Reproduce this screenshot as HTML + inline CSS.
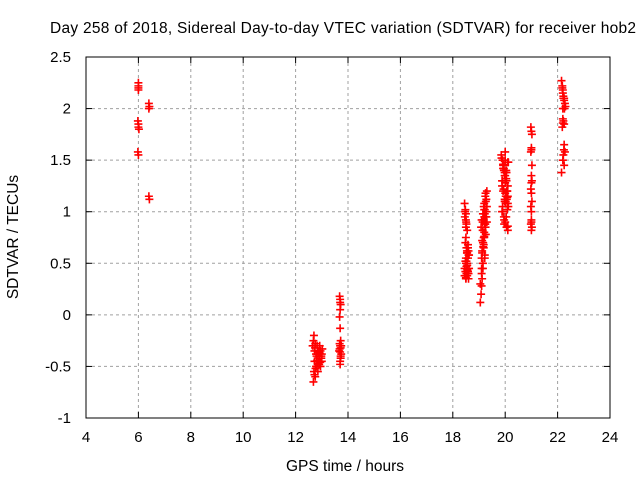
<!DOCTYPE html>
<html><head><meta charset="utf-8"><style>
body{margin:0;background:#fff}
svg{display:block;font-family:"Liberation Sans",Arial,sans-serif}
</style></head><body>
<svg id="chart" width="640" height="480">
<text x="343" y="33" font-size="15.5" text-anchor="middle" textLength="586">Day 258 of 2018, Sidereal Day-to-day VTEC variation (SDTVAR) for receiver hob2</text>
<text x="345" y="471" font-size="15.5" text-anchor="middle">GPS time / hours</text>
<text transform="translate(18,237) rotate(-90)" font-size="15.5" text-anchor="middle">SDTVAR / TECUs</text>
<g id="grid"></g><g id="ticks"></g><g id="marks"></g>
<rect x="86" y="57" width="524" height="361" fill="none" stroke="#000"/>
</svg>
<script>
const xTicks=[4,6,8,10,12,14,16,18,20,22,24];
const yTicks=[-1,-0.5,0,0.5,1,1.5,2,2.5];
const yTickLabels=["-1","-0.5","0","0.5","1","1.5","2","2.5"];
const times=[6.0,6.0,6.0,6.0,5.98,6.0,6.0,6.02,5.98,6.0,
6.4,6.42,6.4,6.4,6.42,
12.65,12.68,12.7,12.72,12.72,12.75,12.78,12.8,12.82,12.85,12.88,12.9,12.92,12.95,12.98,13.0,13.02,12.7,12.75,12.8,12.85,12.9,12.95,13.0,12.68,12.72,
12.74,12.78,12.82,12.86,12.9,12.94,12.98,12.76,12.84,12.92,
13.68,13.7,13.72,13.7,13.68,13.7,13.72,13.7,13.68,13.7,13.72,13.7,13.68,13.72,13.7,13.74,13.66,13.74,13.7,13.72,
18.45,18.48,18.5,18.5,18.52,18.55,18.5,18.48,18.52,18.55,18.6,18.58,18.5,18.45,18.48,18.52,18.55,18.6,18.62,18.5,18.55,18.58,18.45,18.5,18.55,18.6,18.52,
18.46,18.5,18.54,18.58,18.62,18.48,18.52,18.56,18.6,18.5,18.54,18.58,18.47,18.51,18.55,
19.05,19.08,19.1,19.12,19.15,19.1,19.12,19.15,19.18,19.2,19.22,19.25,19.3,19.28,19.25,19.2,19.15,19.1,19.08,19.12,19.18,19.22,19.28,19.3,19.25,19.2,19.15,19.1,19.05,19.1,19.2,19.3,19.22,19.18,19.26,
19.14,19.18,19.22,19.26,19.16,19.2,19.24,19.12,19.16,19.2,19.24,19.28,19.14,19.18,19.22,
19.85,19.9,19.92,19.95,20.0,20.05,20.1,20.08,20.02,19.98,19.9,19.88,19.95,20.0,20.05,20.1,20.12,20.0,19.95,20.05,19.9,20.0,20.1,19.92,20.02,20.08,19.96,20.04,20.0,19.94,20.06,20.1,19.88,19.98,
19.86,19.92,19.98,20.04,20.1,19.88,19.94,20.0,20.06,20.12,19.9,19.96,20.02,20.08,19.92,19.98,20.04,20.1,
20.98,21.0,21.02,21.0,20.98,21.02,21.0,21.0,20.98,21.02,21.0,21.0,20.98,21.02,21.0,21.0,21.0,21.02,20.98,21.0,
22.15,22.18,22.2,22.22,22.25,22.28,22.3,22.2,22.22,22.25,22.18,22.2,22.25,22.28,22.22,22.2,22.25,22.15,22.2,22.25,22.18,22.22,22.26,22.2,22.24];
const values=[2.25,2.22,2.2,2.18,1.88,1.85,1.82,1.8,1.58,1.55,
2.05,2.02,2.0,1.15,1.12,
-0.3,-0.25,-0.2,-0.35,-0.45,-0.28,-0.5,-0.4,-0.3,-0.35,-0.45,-0.4,-0.3,-0.35,-0.42,-0.38,-0.33,-0.55,-0.6,-0.5,-0.55,-0.48,-0.5,-0.45,-0.65,-0.58,
-0.32,-0.38,-0.44,-0.36,-0.42,-0.46,-0.4,-0.52,-0.47,-0.37,
0.18,0.15,0.1,0.05,-0.02,-0.13,-0.25,-0.3,-0.33,-0.36,-0.4,-0.45,-0.28,-0.32,-0.48,-0.38,-0.35,-0.3,0.12,-0.42,
1.08,1.02,0.98,0.92,0.88,0.82,0.75,0.7,0.65,0.6,0.62,0.55,0.5,0.45,0.42,0.4,0.38,0.35,0.45,0.55,0.5,0.42,0.38,0.35,0.48,0.58,0.52,
0.95,0.85,0.6,0.65,0.58,0.52,0.47,0.43,0.4,0.36,0.62,0.68,1.0,0.9,0.44,
0.12,0.2,0.28,0.35,0.45,0.55,0.62,0.7,0.75,0.8,0.88,0.95,1.05,1.12,1.18,1.08,0.98,0.92,0.85,0.72,0.65,0.58,1.0,0.9,0.85,0.75,0.5,0.45,0.3,0.4,0.95,1.2,1.02,0.68,0.78,
0.82,0.92,0.98,1.1,0.7,0.76,0.88,0.6,0.66,1.02,1.15,0.95,0.9,1.05,0.55,
1.55,1.5,1.45,1.4,1.35,1.3,1.25,1.2,1.15,1.1,1.05,1.0,0.95,0.9,0.85,0.82,1.48,1.5,1.42,1.38,1.3,1.28,1.15,1.2,1.1,1.02,0.88,0.95,1.58,1.45,1.2,1.08,1.25,1.12,
1.52,1.42,1.35,1.4,1.48,1.3,1.22,1.18,1.12,1.05,1.0,0.92,1.08,1.14,1.46,1.38,1.32,0.86,
1.82,1.78,1.75,1.62,1.58,1.45,1.35,1.28,1.22,1.1,1.0,0.92,0.88,0.85,0.82,1.18,1.6,1.3,1.05,0.9,
2.27,2.22,2.18,2.12,2.08,2.05,2.02,2.15,1.88,1.85,1.82,1.9,1.65,1.58,1.55,1.5,1.45,1.38,2.0,2.1,2.2,2.1,2.0,1.86,1.6];
const X=v=>86+(v-4)*524/20, Y=v=>418-(v+1)*361/3.5;
const NS="http://www.w3.org/2000/svg";
const grid=document.getElementById('grid'),ticks=document.getElementById('ticks'),marks=document.getElementById('marks');
function mk(tag,attrs,parent){const e=document.createElementNS(NS,tag);for(const k in attrs)e.setAttribute(k,attrs[k]);parent.appendChild(e);return e;}
xTicks.forEach((t,i)=>{const x=X(t);
 if(i>0&&i<xTicks.length-1){const g=mk('line',{x1:x,x2:x,y1:57,y2:418,stroke:'#a0a0a0','stroke-dasharray':'3,3'},grid);
 
 }
 mk('line',{x1:x,x2:x,y1:418,y2:412,stroke:'#000'},ticks);mk('line',{x1:x,x2:x,y1:57,y2:63,stroke:'#000'},ticks);
 const l=mk('text',{x:x,y:442,'font-size':15,'text-anchor':'middle'},ticks);l.textContent=t;
 
 });
yTicks.forEach((t,i)=>{const y=Y(t);
 if(i>0&&i<yTicks.length-1){const g=mk('line',{x1:86,x2:610,y1:y,y2:y,stroke:'#a0a0a0','stroke-dasharray':'3,3'},grid);
 
 }
 mk('line',{x1:86,x2:92,y1:y,y2:y,stroke:'#000'},ticks);mk('line',{x1:610,x2:604,y1:y,y2:y,stroke:'#000'},ticks);
 const l=mk('text',{x:71,y:y+5,'font-size':15,'text-anchor':'end'},ticks);l.textContent=yTickLabels[i];
 
 });
times.forEach((t,i)=>{const x=X(t),y=Y(values[i]);
 const p=mk('path',{d:`M${x-4},${y}H${x+4}M${x},${y-4}V${y+4}`,stroke:'#ff0000','stroke-width':1.6},marks);
 
 });
</script>
</body></html>
